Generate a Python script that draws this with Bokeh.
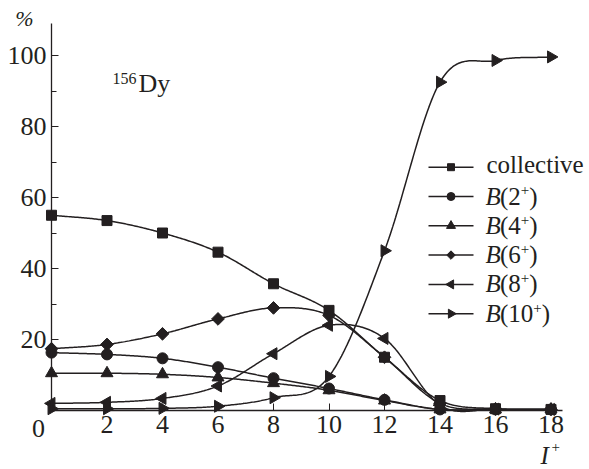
import numpy as np
from bokeh.plotting import figure
from bokeh.models import Range1d, FixedTicker, Label, ColumnDataSource
from bokeh.embed import file_html
from bokeh.resources import INLINE

# ---------------- data ----------------
spins = [0, 2, 4, 6, 8, 10, 12, 14, 16, 18]
collective = [55.0, 53.5, 50.0, 44.6, 35.7, 28.2, 15.0, 2.8, 0.5, 0.3]
b2 = [16.3, 15.8, 14.7, 12.2, 9.1, 6.2, 3.0, 0.3, 0.3, 0.3]
b4 = [10.5, 10.5, 10.2, 9.3, 7.7, 5.7, 2.8, 0.3, 0.3, 0.3]
b6 = [17.4, 18.6, 21.6, 25.8, 28.9, 26.8, 15.0, 2.0, 0.4, 0.3]
b8 = [2.0, 2.3, 3.4, 6.9, 16.0, 24.0, 20.3, 1.5, 0.4, 0.3]
b10 = [0.5, 0.5, 0.6, 1.2, 3.6, 9.6, 45.0, 92.5, 98.6, 99.6]

x_ticks = [0, 2, 4, 6, 8, 10, 12, 14, 16, 18]
y_ticks = [20, 40, 60, 80, 100]
y_minor = [10, 30, 50, 70, 90]

# (label, values, marker, angle, size on curve, size in legend key)
series = [
    ("collective", collective, "square", 0.0, 10, 7),
    ("2", b2, "circle", 0.0, 11, 8),
    ("4", b4, "triangle", 0.0, 12, 9),
    ("6", b6, "square", np.pi / 4, 9, 6),
    ("8", b8, "triangle", np.pi / 2, 12, 9),
    ("10", b10, "triangle", -np.pi / 2, 12, 9),
]

INK = "#231f20"
FONT = "Liberation Serif"

# ---------------- geometry (page pixels) ----------------
W, H = 589, 469
OX, OY = 51, 410           # where (0, 0) sits on the page
SX, SY = 27.75, 3.55       # pixels per unit
X_END, Y_END = 18.41, 109  # extent of the drawn axes


def dx(px):
    return (px - OX) / SX


def dy(py):
    return (OY - py) / SY


def smooth(xs, ys, n=40):
    """Cubic Hermite (Catmull-Rom style) curve through the data points."""
    xs = np.asarray(xs, float)
    ys = np.asarray(ys, float)
    m = np.zeros_like(ys)
    m[1:-1] = (ys[2:] - ys[:-2]) / (xs[2:] - xs[:-2])
    m[0] = (ys[1] - ys[0]) / (xs[1] - xs[0])
    m[-1] = (ys[-1] - ys[-2]) / (xs[-1] - xs[-2])
    ox, oy = [], []
    for i in range(len(xs) - 1):
        h = xs[i + 1] - xs[i]
        t = np.linspace(0, 1, n, endpoint=(i == len(xs) - 2))
        h00 = 2 * t**3 - 3 * t**2 + 1
        h10 = t**3 - 2 * t**2 + t
        h01 = -2 * t**3 + 3 * t**2
        h11 = t**3 - t**2
        ox.extend(xs[i] + t * h)
        oy.extend(h00 * ys[i] + h10 * h * m[i] + h01 * ys[i + 1] + h11 * h * m[i + 1])
    return ox, oy


p = figure(width=W, height=H, output_backend="svg", toolbar_location=None,
           x_range=Range1d(dx(0), dx(W)), y_range=Range1d(dy(H), dy(0)),
           min_border=0)
p.outline_line_color = None
p.grid.visible = False
p.background_fill_color = "white"
p.border_fill_color = "white"

# axes, fixed at the origin and bounded to the drawn extent
for ax, bnd in ((p.xaxis[0], (0, X_END)), (p.yaxis[0], (0, Y_END))):
    ax.fixed_location = 0
    ax.bounds = bnd
    ax.axis_line_color = INK
    ax.axis_line_width = 1.3
    ax.major_tick_line_color = INK
    ax.minor_tick_line_color = INK
    ax.major_tick_in = 7
    ax.major_tick_out = 0
    ax.minor_tick_in = 5
    ax.minor_tick_out = 0
    ax.major_label_text_font = FONT
    ax.major_label_text_font_size = "26px"
    ax.major_label_text_color = INK
    ax.major_label_standoff = 5

p.xaxis.ticker = FixedTicker(ticks=x_ticks)
p.xaxis.major_label_overrides = {0: ""}
p.xaxis.minor_tick_line_color = None
p.yaxis.ticker = FixedTicker(ticks=y_ticks, minor_ticks=y_minor)

# legend key geometry (page pixels)
ROW0, PITCH = 166.7, 29.3
rows = [ROW0 + PITCH * k for k in range(len(series))]
KEY_X0, KEY_X1 = 428, 473

for k, (name, ys, marker, ang, size, ksize) in enumerate(series):
    sx, sy = smooth(spins, ys)
    p.line(sx, sy, line_color=INK, line_width=1.5)
    src = ColumnDataSource(dict(x=spins, y=ys))
    p.scatter("x", "y", source=src, marker=marker, angle=ang, size=size,
              fill_color=INK, line_color=INK)
    # legend key: short line with the marker in its middle
    p.segment(x0=[dx(KEY_X0)], y0=[dy(rows[k])], x1=[dx(KEY_X1)], y1=[dy(rows[k])],
              line_color=INK, line_width=1.5)
    p.scatter(x=[dx((KEY_X0 + KEY_X1) / 2)], y=[dy(rows[k])], marker=marker,
              angle=ang, size=ksize, fill_color=INK, line_color=INK)


def lab(text, px, base, size, style="normal", align="left"):
    """Place text by its baseline (page pixels)."""
    mid = base - 0.3375 * size
    p.add_layout(Label(x=px, y=H - mid, x_units="screen", y_units="screen",
                       text=text, text_font=FONT, text_font_size=f"{size}px",
                       text_font_style=style, text_color=INK, text_align=align,
                       text_baseline="middle"))


# corner zero, axis names, nucleus
lab("0", 38, 437, 26, align="center")
lab("%", 24, 25, 22, style="italic", align="center")
lab("I", 540, 463, 25, style="italic")
lab("+", 551, 452, 15)
lab("156", 112, 83, 16)
lab("Dy", 138, 92, 26)

# legend texts
FS = 25
lab("collective", 486, rows[0] + 6, FS)
for (name, *_), yc in zip(series[1:], rows[1:]):
    base = yc + 8
    lab("B", 485, base, FS, style="italic")
    x = 485 + 14.5
    lab("(" + name, x, base, FS)
    x += 8.3 + 12.5 * len(name)
    lab("+", x, base - 9, 15)
    x += 8.5
    lab(")", x, base, FS)

open("out.html", "w").write(file_html(p, INLINE))
